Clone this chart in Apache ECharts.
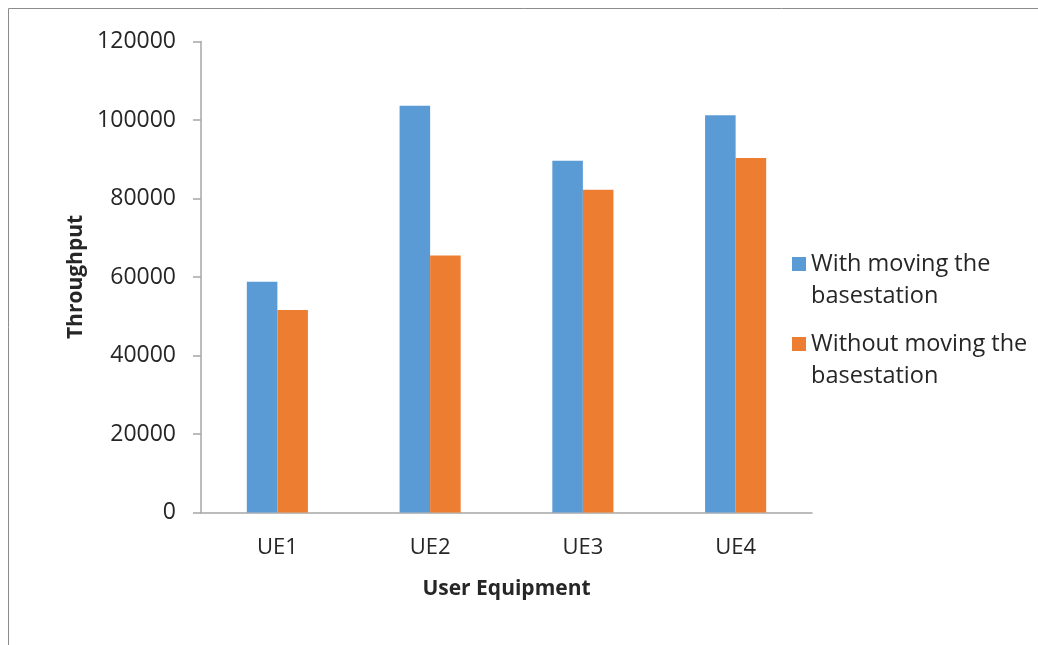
<!DOCTYPE html>
<html>
<head>
<meta charset="utf-8">
<script src="https://cdn.jsdelivr.net/npm/echarts@6/dist/echarts.min.js"></script>
<style>
  html, body { margin: 0; padding: 0; background: #fff; }
  #chart { width: 1038px; height: 645px; }
</style>
</head>
<body>
<div id="chart"></div>
<script>
// Throughput per user equipment, with and without moving the base station
const categories = ['UE1', 'UE2', 'UE3', 'UE4'];
const withMoving = [58800, 103600, 89600, 101200];
const withoutMoving = [51600, 65500, 82200, 90300];
const seriesNames = ['With moving the\nbasestation', 'Without moving the\nbasestation'];
const yTickLabels = ['0', '20000', '40000', '60000', '80000', '100000', '120000'];
const yTicks = { min: 0, max: 120000, interval: 20000 };

const FONT = '"Open Sans", "Liberation Sans", sans-serif';
const TEXT = '#262626';
const AXIS = '#a6a6a6';

const chart = echarts.init(document.getElementById('chart'), null, { renderer: 'canvas' });

chart.setOption({
  animation: false,
  backgroundColor: '#ffffff',
  color: ['#5B9BD5', '#ED7D31'],
  graphic: [{
    type: 'rect',
    shape: { x: 8.5, y: 8.5, width: 1100, height: 700 },
    style: { fill: 'none', stroke: '#8c8c8c', lineWidth: 1 },
    silent: true
  }],
  grid: { left: 201, right: 226, top: 41.5, bottom: 132.5 },
  legend: {
    orient: 'vertical',
    left: 792,
    top: 216,
    padding: 0,
    itemWidth: 14,
    itemHeight: 14,
    itemGap: -16,
    icon: 'rect',
    selectedMode: false,
    // leading blank line keeps the square level with the first text line
    formatter: name => '\n' + name,
    textStyle: {
      fontFamily: FONT,
      fontSize: 23.5,
      color: TEXT,
      lineHeight: 32
    },
    data: seriesNames
  },
  xAxis: {
    type: 'category',
    data: categories,
    name: 'User Equipment',
    nameLocation: 'middle',
    nameGap: 66,
    nameTextStyle: { fontFamily: FONT, fontSize: 21, fontWeight: 'bold', color: TEXT },
    axisLine: { lineStyle: { color: AXIS, width: 1.5 } },
    axisTick: { show: false },
    axisLabel: { fontFamily: FONT, fontSize: 22, color: TEXT, margin: 24 }
  },
  yAxis: {
    type: 'value',
    min: yTicks.min,
    max: yTicks.max,
    interval: yTicks.interval,
    name: 'Throughput',
    nameLocation: 'middle',
    nameGap: 109,
    nameTextStyle: { fontFamily: FONT, fontSize: 21, fontWeight: 'bold', color: TEXT },
    axisLine: { show: true, lineStyle: { color: AXIS, width: 1.5 } },
    axisTick: { show: true, length: 8, lineStyle: { color: AXIS, width: 1.5 } },
    splitLine: { show: false },
    axisLabel: {
      fontFamily: FONT, fontSize: 23, color: TEXT, margin: 25,
      formatter: (v, i) => yTickLabels[i] !== undefined ? yTickLabels[i] : String(v)
    }
  },
  series: [
    {
      name: seriesNames[0],
      type: 'bar',
      data: withMoving,
      barWidth: '20%',
      barGap: '0%'
    },
    {
      name: seriesNames[1],
      type: 'bar',
      data: withoutMoving,
      barWidth: '20%',
      barGap: '0%'
    }
  ]
});
</script>
</body>
</html>
